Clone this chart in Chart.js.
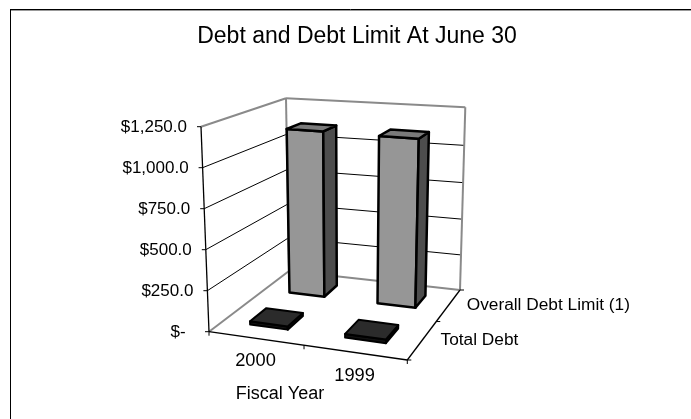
<!DOCTYPE html>
<html>
<head>
<meta charset="utf-8">
<title>Debt and Debt Limit</title>
<script src="https://cdn.jsdelivr.net/npm/chart.js@4/dist/chart.umd.min.js"></script>
<style>
    html, body { margin: 0; padding: 0; background: #fff; }
    canvas { display: block; }
</style>
</head>
<body>
<canvas id="debtChart" width="691" height="419"></canvas>
<script>
// --- DATA ---
const fiscalYears = ['2000', '1999'];
const depthLabels = ['Total Debt', 'Overall Debt Limit (1)'];
const totalDebt = [20, 22];
const overallDebtLimit = [1115, 1110];
const chartTitle = 'Debt and Debt Limit At June 30';
const categoryTitle = 'Fiscal Year';

// --- 3D BOX ---
// screen corners of the plot box: f/b = front/back, l/r = left/right, floor/roof
const corners = {
    flFloor: [209, 331.7], frFloor: [407.3, 360], blFloor: [289, 271], brFloor: [460, 290],
    flRoof: [201, 126.7], frRoof: [413, 144], blRoof: [286, 98.3], brRoof: [465.3, 107.3]
};
const FONT = '"Liberation Sans", Arial, sans-serif';
const BAR_DEPTH = 0.39;     // share of a depth row taken by the bar
const PERSPECTIVE_U = 0.92; // foreshortening along the category axis
const PERSPECTIVE_W = 1.22; // foreshortening along the depth axis
const PERSPECTIVE_V = 0.05; // height foreshortening, grows toward the back wall

const warp = (t, k) => t * k / (1 + (k - 1) * t);
const mix = (a, b, t) => [a[0] + (b[0] - a[0]) * t, a[1] + (b[1] - a[1]) * t];

// u: left to right, v: floor to roof, w: front to back (all 0..1)
function project(u, v, w) {
    const pu = warp(u, PERSPECTIVE_U);
    const pw = warp(w, PERSPECTIVE_W);
    const c = corners;
    const floor = mix(mix(c.flFloor, c.frFloor, pu), mix(c.blFloor, c.brFloor, pu), pw);
    const roof = mix(mix(c.flRoof, c.frRoof, pu), mix(c.blRoof, c.brRoof, pu), pw);
    return mix(floor, roof, warp(v, 1 - PERSPECTIVE_V * w));
}

function line(ctx, a, b) {
    ctx.beginPath();
    ctx.moveTo(a[0], a[1]);
    ctx.lineTo(b[0], b[1]);
    ctx.stroke();
}

function face(ctx, pts, fill) {
    ctx.beginPath();
    pts.forEach((p, i) => i ? ctx.lineTo(p[0], p[1]) : ctx.moveTo(p[0], p[1]));
    ctx.closePath();
    ctx.fillStyle = fill;
    ctx.fill();
    ctx.stroke();
}

function drawFrame(ctx) {
    ctx.lineWidth = 1;
    ctx.strokeStyle = '#999';
    line(ctx, [11, 10.5], [691, 10.5]);
    ctx.strokeStyle = '#000';
    line(ctx, [10, 9.5], [691, 9.5]);
    line(ctx, [10.5, 9], [10.5, 419]);
}

function drawWalls(ctx, valueTicks) {
    // gridlines run along the left wall, then across the back wall
    ctx.strokeStyle = '#000';
    ctx.lineWidth = 1;
    valueTicks.forEach(v => {
        if (v <= 0 || v >= 1) return;
        line(ctx, project(0, v, 0), project(0, v, 1));
        line(ctx, project(0, v, 1), project(1, v, 1));
    });

    ctx.strokeStyle = '#8a8a8a';
    ctx.lineWidth = 2;
    ctx.lineJoin = 'miter';
    line(ctx, project(0, 1, 0), project(0, 1, 1));
    line(ctx, project(0, 1, 1), project(1, 1, 1));
    line(ctx, project(1, 1, 1), project(1, 0, 1));
    line(ctx, project(1, 0, 1), project(0, 0, 1));
    line(ctx, project(0, 0, 1), project(0, 1, 1));
    line(ctx, project(0, 0, 0), project(0, 0, 1));
}

function drawAxes(ctx, valueTicks, categoryTicks, depthTicks) {
    ctx.strokeStyle = '#000';
    ctx.lineWidth = 1.3;
    line(ctx, project(0, 0, 0), project(0, 1, 0));
    line(ctx, project(0, 0, 0), project(1, 0, 0));
    line(ctx, project(1, 0, 0), project(1, 0, 1));

    ctx.lineWidth = 1;
    valueTicks.forEach(v => {
        const p = project(0, v, 0);
        line(ctx, [p[0] - 4, p[1]], p);
    });
    categoryTicks.forEach(u => {
        const p = project(u, 0, 0);
        line(ctx, p, [p[0], p[1] + 4]);
    });
    depthTicks.forEach(w => {
        const p = project(1, 0, w);
        line(ctx, p, [p[0] + 4, p[1]]);
    });
}

function drawBar(ctx, u0, u1, v, w0, w1, style) {
    ctx.strokeStyle = '#000';
    ctx.lineWidth = style.lineWidth;
    ctx.lineJoin = 'round';
    face(ctx, [project(u0, 0, w0), project(u1, 0, w0), project(u1, v, w0), project(u0, v, w0)], style.front);
    face(ctx, [project(u1, 0, w0), project(u1, 0, w1), project(u1, v, w1), project(u1, v, w0)], style.side);
    face(ctx, [project(u0, v, w0), project(u1, v, w0), project(u1, v, w1), project(u0, v, w1)], style.top);
}

// Chart.js lays out the scales and bar elements; this plugin carries them into the box.
const box3d = {
    id: 'box3d',
    beforeDraw(chart) {
        drawFrame(chart.ctx);
    },
    afterDatasetsDraw(chart) {
        const ctx = chart.ctx;
        const { x, y, z } = chart.scales;
        const area = chart.chartArea;
        const fracU = px => (px - area.left) / area.width;
        const fracV = py => (area.bottom - py) / area.height;
        const fracW = px => (px - z.left) / z.width;

        const valueTicks = y.ticks.map(t => fracV(y.getPixelForValue(t.value)));
        const categoryTicks = [0, 0.5, 1].map(t => fracU(x.left + x.width * t));
        const depthTicks = [0, 0.5, 1].map(t => fracW(z.left + z.width * t));

        ctx.save();
        drawWalls(ctx, valueTicks);

        // back row first so the front row paints over it
        for (let d = chart.data.datasets.length - 1; d >= 0; d--) {
            const style = chart.data.datasets[d].faces;
            const wc = fracW(z.getPixelForValue(d));
            const half = BAR_DEPTH / chart.data.datasets.length / 2;
            chart.getDatasetMeta(d).data.forEach(bar => {
                drawBar(ctx,
                    fracU(bar.x - bar.width / 2), fracU(bar.x + bar.width / 2),
                    fracV(bar.y), wc - half, wc + half, style);
            });
        }

        drawAxes(ctx, valueTicks, categoryTicks, depthTicks);

        // tick labels
        ctx.fillStyle = '#000';
        ctx.textBaseline = 'middle';
        ctx.textAlign = 'right';
        ctx.font = '17px ' + FONT;
        y.ticks.forEach((t, i) => {
            const p = project(0, valueTicks[i], 0);
            ctx.fillText(t.label, p[0] - 14, p[1] + 1);
        });
        ctx.textAlign = 'center';
        ctx.font = '18.3px ' + FONT;
        x.ticks.forEach((t, i) => {
            const p = project(fracU(x.getPixelForTick(i)), 0, 0);
            ctx.fillText(t.label, p[0], p[1] + 23);
        });
        ctx.font = '18px ' + FONT;
        ctx.fillText(categoryTitle, 280, 394);
        ctx.textAlign = 'left';
        ctx.font = '17.3px ' + FONT;
        z.ticks.forEach((t, i) => {
            const p = project(1, 0, fracW(z.getPixelForTick(i)));
            ctx.fillText(t.label, p[0] + 18, p[1] + 0.5);
        });
        ctx.restore();
    }
};

new Chart(document.getElementById('debtChart'), {
    type: 'bar',
    data: {
        labels: fiscalYears,
        datasets: [
            {
                label: depthLabels[0], data: totalDebt, grouped: false,
                barPercentage: 0.406, categoryPercentage: 1, backgroundColor: 'transparent',
                faces: { front: '#111', side: '#111', top: '#2b2b2b', lineWidth: 2 }
            },
            {
                label: depthLabels[1], data: overallDebtLimit, grouped: false,
                barPercentage: 0.406, categoryPercentage: 1, backgroundColor: 'transparent',
                faces: { front: '#969696', side: '#4d4d4d', top: '#7a7a7a', lineWidth: 2.5 }
            }
        ]
    },
    options: {
        responsive: false,
        animation: false,
        layout: { padding: { top: 0, left: 43, right: 20, bottom: 20 } },
        scales: {
            x: { display: false },
            y: {
                display: false, min: 0, max: 1250,
                ticks: {
                    stepSize: 250,
                    // zero shows as a dash, accounting style
                    callback: v => v === 0 ? '$-  ' : '$' + v.toLocaleString('en-US', { minimumFractionDigits: 1 })
                }
            },
            z: { type: 'category', position: 'bottom', labels: depthLabels, offset: true, display: false }
        },
        plugins: {
            legend: { display: false },
            tooltip: { enabled: false },
            title: {
                display: true,
                text: chartTitle,
                color: '#000',
                font: { family: FONT, size: 23, weight: 'normal' },
                padding: { top: 23, bottom: 10 }
            }
        }
    },
    plugins: [box3d]
});
</script>
</body>
</html>
